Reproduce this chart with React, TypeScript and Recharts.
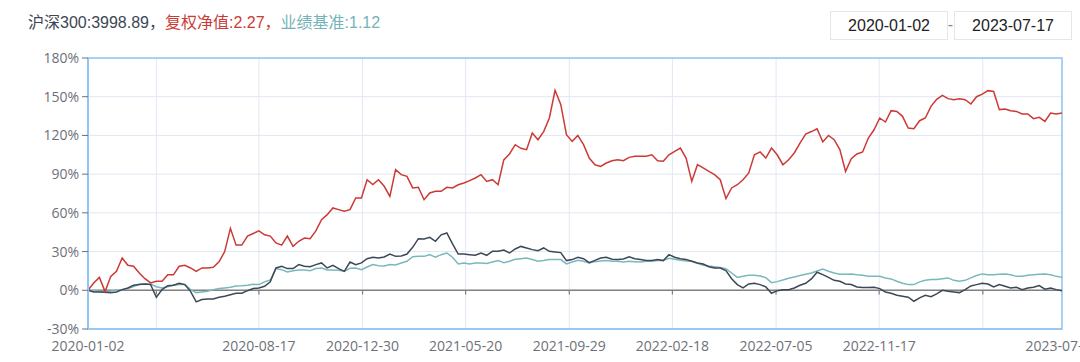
import React from 'react';
import { LineChart, Line, XAxis, YAxis, CartesianGrid, ReferenceLine, ReferenceArea } from 'recharts';

// 复权净值 (fund, %)
const fund = [
  0, 5.7, 10, -1, 10.8, 14.7, 25, 19.4, 18.6, 13.4,
  9, 5.7, 7, 7, 12, 12, 18.6, 19.4, 17.3, 14.7,
  17.3, 17.3, 17.8, 22, 30, 48, 35, 35, 42, 44,
  46, 43, 42, 36.7, 35, 42, 34, 38, 40.5, 40,
  46, 54.7, 58.6, 63.8, 62.5, 61.2, 62.5, 71.5, 71.5, 85.7,
  81.9, 85.7, 80.6, 72.8, 93.5, 89.6, 88.3, 79.3, 79.8, 70.2,
  75.4, 76.7, 76.7, 79.8, 79.3, 81.8, 83.1, 85, 87, 89.6,
  84.4, 85.7, 81.8, 101, 105.6, 112.8, 110, 109, 121.9, 116.7,
  123, 133.5, 155, 144, 120.6, 115.4, 120, 112.8, 102.5, 97.3,
  96, 98.6, 100.4, 101.2, 100.4, 103, 103.8, 103.8, 103.8, 105,
  100.4, 100, 105, 107.7, 110.2, 102.5, 84.4, 97.3, 94.8, 92.2,
  89.6, 85.7, 71, 79.3, 81.8, 85.7, 90.9, 105, 107.2, 102.5,
  110.2, 105, 97.3, 101.2, 106.4, 114.1, 121, 123, 125.2, 115,
  120, 116.7, 109, 92, 102, 105.6, 107.2, 118, 124.4, 133.5,
  130.4, 139.2, 138.6, 134.8, 125.7, 125.2, 131.4, 133.5, 142.5, 148,
  151, 148.5, 147.7, 148.5, 147.7, 144.3, 150, 152, 154.7, 154.1,
  140, 140.5, 139.2, 138.6, 136.6, 136.6, 133, 134, 130.9, 137.4,
  136.6, 137.4,
];

// 沪深300 (%)
const hs300 = [
  0, -1.3, -1.3, -1.5, -2, -1.3, 0.5, 1.8, 3.9, 4.4,
  4.9, 4.4, -5.4, 0.5, 3.6, 3.9, 5.4, 4.4, -0.8, -9,
  -7.2, -6.7, -6.7, -5.4, -4.6, -3.4, -2.3, -2.3, -0.3, 1.3,
  1.8, 3.1, 6.5, 17.3, 18.6, 16.8, 16.8, 19.9, 18.6, 18.3,
  19.9, 21.2, 17.3, 19.4, 16.8, 14.7, 21.9, 19.9, 21.2, 24.5,
  25.6, 25, 25.8, 28.1, 26.3, 26.6, 28.1, 33.3, 40, 39.8,
  41, 38, 43, 44.4, 35.9, 28.1, 28.1, 27.6, 27.1, 28.9,
  27.1, 30.2, 30.2, 31.2, 28.9, 32, 34, 32.8, 31.5, 30.7,
  32.8, 30.2, 29.7, 29.2, 23, 23.8, 25.6, 24.5, 21.4, 23.2,
  25, 25.6, 24, 23.8, 24.3, 26, 24.5, 23.8, 23, 23,
  23.8, 23, 27.6, 25.6, 24.5, 23.8, 22.5, 21.2, 20.4, 18.3,
  17.3, 17.3, 15.2, 9, 4.4, 1.8, 4.9, 5.4, 4.4, 2.6,
  -2.3, -0.3, 0.5, 0.5, 1.8, 3.9, 5.4, 8.8, 14, 12.1,
  10, 7.7, 7, 4.9, 4.4, 2.6, 2.1, 2.1, 2.3, 1.3,
  -1.3, -2.3, -3.9, -4.6, -5.4, -8.5, -5.9, -3.9, -4.9, -2.8,
  0, -0.8, -1.3, -1.8, 0.5, 3.4, 4.4, 5.4, 4.9, 2.6,
  4.4, 3.1, 1.8, 2.3, 0.5, 1.8, 2.3, 3.6, 0.8, 1.8,
  0.5, -0.3,
];

// 业绩基准 (%)
const bench = [
  0, -0.3, -0.8, -0.8, -0.8, 0, 0.5, 1.3, 2.8, 4.6,
  4.9, 4.9, 2.8, 1.8, 2.8, 3.9, 4.4, 4.4, 0.5, -1.8,
  -1.3, -0.8, 0.5, 1.3, 1.8, 2.3, 3.4, 3.6, 3.9, 4.6,
  4.4, 6.5, 8, 16.8, 16, 14.2, 15.2, 15.7, 15.7, 15.2,
  16.8, 17.3, 15.7, 15.7, 15.5, 14.7, 17, 17.3, 16, 18,
  19.9, 19.1, 18.8, 19.9, 19.6, 21.2, 22.5, 26, 26.3, 26.3,
  27.6, 25.6, 27.6, 28.9, 25.6, 20.4, 21.2, 20.4, 21.2, 21.2,
  20.7, 21.9, 23, 21.4, 22.5, 24, 24.5, 25, 23.8, 22.5,
  23, 23.8, 23.8, 23.8, 20.4, 21.9, 23.2, 22.5, 21.2, 22.2,
  22.7, 23, 22.5, 22.5, 21.9, 22.5, 22.2, 21.9, 22.5, 22.5,
  23, 23, 24.8, 24, 23.2, 22.7, 22.5, 20.9, 19.4, 18.8,
  18.3, 17.6, 16.8, 13.4, 10, 10.8, 11.6, 11.6, 11.1, 9.8,
  5.9, 6.7, 8, 9.3, 10.3, 11.4, 12.4, 13.4, 15, 16.5,
  14.7, 13.4, 12.4, 12.4, 12.7, 12.1, 11.6, 10.8, 10.8, 10.8,
  9.6, 8.8, 7, 5.4, 4.4, 4.4, 6.5, 7.7, 8.3, 8.3,
  9, 9.6, 7.7, 7, 7.7, 9.6, 11.4, 12.7, 12.1, 12.1,
  12.4, 12.7, 12.1, 10.8, 10.8, 11.6, 12.1, 12.4, 12.7, 12.1,
  10.8, 10,
];

const xTicks = [0, 12, 30, 48.2, 66.3, 84.5, 102.6, 120.8, 138.9, 157.1, 171];
const xTickLabels = [
  '2020-01-02', '', '2020-08-17', '2020-12-30', '2021-05-20', '2021-09-29',
  '2022-02-18', '2022-07-05', '2022-11-17', '', '2023-07-17',
];
const yTicks = [-30, 0, 30, 60, 90, 120, 150, 180];

const headerParts = [
  { text: '沪深300:3998.89，', color: '#3d4754' },
  { text: '复权净值:2.27，', color: '#cc3a35' },
  { text: '业绩基准:1.12', color: '#74b3b9' },
];
const startDate = '2020-01-02';
const endDate = '2023-07-17';

const data = fund.map((v, i) => ({ i, fund: v, hs300: hs300[i], bench: bench[i] }));

const BLUE = '#91c6f3';
const AXIS_TEXT = '#6e7079';
const FONT = '"Open Sans", "Noto Sans", sans-serif';

const boxStyle: React.CSSProperties = {
  position: 'absolute',
  top: 11,
  width: 118,
  height: 29,
  boxSizing: 'border-box',
  border: '1px solid #e6e6e6',
  display: 'flex',
  alignItems: 'center',
  justifyContent: 'center',
  fontSize: 16,
  color: '#222',
  fontFamily: '"Liberation Sans", Arial, sans-serif',
};

export default function App() {
  return (
    <div style={{ position: 'absolute', left: 0, top: 0, width: 1080, height: 362, background: '#fff', overflow: 'hidden' }}>
      <div
        style={{
          position: 'absolute',
          left: 28,
          top: 13,
          fontSize: 16,
          lineHeight: '20px',
          whiteSpace: 'nowrap',
          fontFamily: '"Liberation Sans", "Noto Sans CJK SC", sans-serif',
        }}
      >
        {headerParts.map((p) => (
          <span key={p.text} style={{ color: p.color }}>{p.text}</span>
        ))}
      </div>
      <div style={{ ...boxStyle, left: 830 }}>{startDate}</div>
      <div
        style={{
          position: 'absolute',
          left: 947,
          width: 7,
          top: 15,
          textAlign: 'center',
          fontSize: 16,
          lineHeight: '20px',
          color: '#888',
          fontFamily: '"Liberation Sans", Arial, sans-serif',
        }}
      >
        -
      </div>
      <div style={{ ...boxStyle, left: 954 }}>{endDate}</div>

      <div style={{ position: 'absolute', left: 0, top: 0 }}>
        <LineChart width={1080} height={362} data={data} margin={{ top: 58, right: 18, bottom: 0, left: 28 }}>
          <CartesianGrid stroke="#e1e7f2" strokeWidth={1} />
          <XAxis
            dataKey="i"
            type="number"
            domain={[0, 171]}
            ticks={xTicks}
            interval={0}
            height={33}
            tickLine={false}
            tickSize={6}
            tickMargin={6}
            axisLine={{ stroke: BLUE, strokeWidth: 1.5 }}
            tick={{ fontSize: 14, fill: AXIS_TEXT, fontFamily: FONT }}
            tickFormatter={(v: number) => xTickLabels[xTicks.indexOf(v)] ?? ''}
          />
          <YAxis
            type="number"
            domain={[-30, 180]}
            ticks={yTicks}
            interval={0}
            width={60}
            tickSize={6}
            tickMargin={3}
            tickLine={{ stroke: AXIS_TEXT }}
            axisLine={{ stroke: BLUE, strokeWidth: 2 }}
            tick={{ fontSize: 14, fill: AXIS_TEXT, fontFamily: FONT }}
            tickFormatter={(v: number) => `${v}%`}
          />
          <ReferenceArea
            x1={0}
            x2={171}
            y1={-30}
            y2={180}
            fill="none"
            fillOpacity={0}
            stroke={BLUE}
            strokeWidth={1.5}
            ifOverflow="visible"
          />
          <ReferenceLine y={0} stroke="#808080" strokeWidth={1.5} />
          {xTicks.slice(1, -1).map((t) => (
            <ReferenceLine
              key={t}
              segment={[{ x: t, y: 0 }, { x: t, y: -3.3 }]}
              stroke="#808080"
              strokeWidth={1.2}
              ifOverflow="visible"
            />
          ))}
          <Line type="linear" dataKey="bench" stroke="#7ab8bc" strokeWidth={1.5} dot={false} isAnimationActive={false} />
          <Line type="linear" dataKey="hs300" stroke="#3d4856" strokeWidth={1.5} dot={false} isAnimationActive={false} />
          <Line type="linear" dataKey="fund" stroke="#cc3a35" strokeWidth={1.5} dot={false} isAnimationActive={false} />
        </LineChart>
      </div>
    </div>
  );
}
